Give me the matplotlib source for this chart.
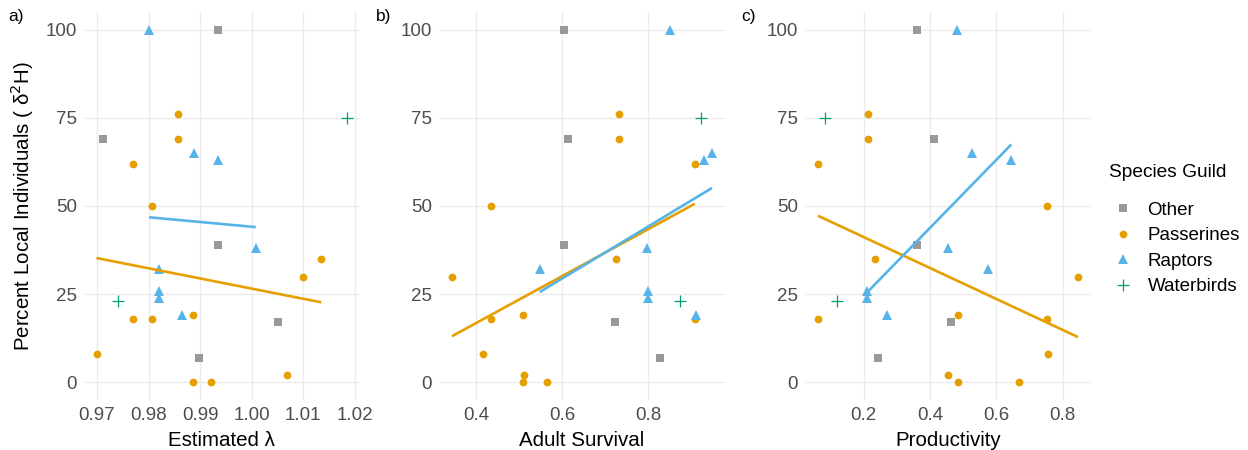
import numpy as np
import matplotlib
matplotlib.use('Agg')
import matplotlib.pyplot as plt
from matplotlib.lines import Line2D

plt.rcParams['font.family'] = ['Liberation Sans', 'DejaVu Sans']

# ── Data ─────────────────────────────────────────────────────────────────────
guilds = ['Other', 'Passerines', 'Raptors', 'Waterbirds']

pct_other = [100, 69, 39, 17, 7]
lam_other = [0.9934, 0.9711, 0.9934, 1.0051, 0.9897]
surv_other = [0.604, 0.612, 0.604, 0.723, 0.827]
prod_other = [0.361, 0.411, 0.361, 0.464, 0.244]

pct_pass = [76, 69, 62, 50, 35, 30, 19, 18, 18, 8, 2, 0, 0]
lam_pass = [0.9857, 0.9857, 0.9769, 0.9806, 1.0135, 1.0099, 0.9887,
            0.9769, 0.9806, 0.9699, 1.0068, 0.9887, 0.9922]
surv_pass = [0.732, 0.732, 0.908, 0.433, 0.725, 0.343, 0.508,
             0.433, 0.908, 0.416, 0.511, 0.508, 0.565]
prod_pass = [0.212, 0.212, 0.062, 0.753, 0.235, 0.846, 0.483,
             0.062, 0.753, 0.757, 0.455, 0.483, 0.669]

pct_rapt = [100, 65, 63, 38, 32, 26, 24, 19]
lam_rapt = [0.9801, 0.9888, 0.9934, 1.0008, 0.9821, 0.9820, 0.9820, 0.9865]
surv_rapt = [0.850, 0.948, 0.930, 0.796, 0.547, 0.799, 0.799, 0.911]
prod_rapt = [0.480, 0.525, 0.645, 0.455, 0.576, 0.209, 0.209, 0.271]

pct_water = [75, 23]
lam_water = [1.0184, 0.974]
surv_water = [0.922, 0.874]
prod_water = [0.083, 0.119]

x_titles = ['Estimated \u03bb', 'Adult Survival', 'Productivity']
panel_tags = ['a)', 'b)', 'c)']
x_ticks = [[0.97, 0.98, 0.99, 1.00, 1.01, 1.02], [0.4, 0.6, 0.8], [0.2, 0.4, 0.6, 0.8]]
x_fmt = ['{:.2f}', '{:.1f}', '{:.1f}']
y_ticks = [0, 25, 50, 75, 100]

# ── Styles ───────────────────────────────────────────────────────────────────
COLORS = {'Other': '#999999', 'Passerines': '#E69F00',
          'Raptors': '#56B4E9', 'Waterbirds': '#009E73'}
MARKERS = {'Other': dict(marker='s', ms=5.2),
           'Passerines': dict(marker='o', ms=5.6),
           'Raptors': dict(marker='^', ms=6.8),
           'Waterbirds': dict(marker='+', ms=8, mew=0.9)}
GRID_COLOR = '#EBEBEB'
TICK_COLOR = '#4D4D4D'

W, H = 1248, 450
fig = plt.figure(figsize=(W / 100, H / 100), dpi=100)

# panel boxes in pixels (left, right), shared top/bottom
panels_px = [(84, 359), (439, 725), (805, 1091)]
tag_px = [8, 376, 741]
top_px, bot_px = 12, 400

xs_by_panel = [
    [lam_other, lam_pass, lam_rapt, lam_water],
    [surv_other, surv_pass, surv_rapt, surv_water],
    [prod_other, prod_pass, prod_rapt, prod_water],
]
ys = [pct_other, pct_pass, pct_rapt, pct_water]

for i, (l, r) in enumerate(panels_px):
    ax = fig.add_axes([l / W, (H - bot_px) / H, (r - l) / W, (bot_px - top_px) / H])
    xdata = xs_by_panel[i]

    for g, xv, yv in zip(guilds, xdata, ys):
        ax.plot(xv, yv, linestyle='none', color=COLORS[g], zorder=3,
                markeredgewidth=MARKERS[g].get('mew', 0),
                marker=MARKERS[g]['marker'], markersize=MARKERS[g]['ms'])

    # linear fits for passerines and raptors
    for g_idx in (1, 2):
        g = guilds[g_idx]
        xv = np.array(xdata[g_idx])
        yv = np.array(ys[g_idx])
        k, b = np.polyfit(xv, yv, 1)
        xx = np.array([xv.min(), xv.max()])
        ax.plot(xx, k * xx + b, color=COLORS[g], lw=1.9, zorder=4,
                solid_capstyle='butt')

    allx = np.concatenate([np.array(v) for v in xdata])
    span = allx.max() - allx.min()
    ax.set_xlim(allx.min() - 0.05 * span, allx.max() + 0.05 * span)
    ax.set_ylim(-5, 105)
    ax.set_xticks(x_ticks[i])
    ax.set_xticklabels([x_fmt[i].format(t) for t in x_ticks[i]])
    ax.set_yticks(y_ticks)
    ax.grid(True, color=GRID_COLOR, linewidth=1.0, zorder=0)
    ax.set_axisbelow(True)
    for s in ax.spines.values():
        s.set_visible(False)
    ax.tick_params(length=0, labelsize=13.5, labelcolor=TICK_COLOR, pad=5)
    ax.set_xlabel(x_titles[i], fontsize=14.8, labelpad=5)
    if i == 0:
        ax.set_ylabel('Percent Local Individuals ( \u03b4$^{2}$H)', fontsize=14.8, labelpad=7)
    fig.text(tag_px[i] / W, 1 - 17 / H, panel_tags[i], fontsize=12.5,
             ha='left', va='center')

# legend: title as plain text, entries below
fig.text(1109 / W, 1 - 173 / H, 'Species Guild', fontsize=13.8, ha='left', va='center')
handles = [Line2D([], [], linestyle='none', color=COLORS[g], marker=MARKERS[g]['marker'],
                  markersize=MARKERS[g]['ms'], markeredgewidth=MARKERS[g].get('mew', 0))
           for g in guilds]
fig.legend(handles, guilds, loc='upper left', bbox_to_anchor=(1102 / W, 1 - 192 / H),
           frameon=False, fontsize=13.5, borderpad=0, labelspacing=0.45,
           handlelength=1.2, handletextpad=0.73)

fig.savefig('out.png', dpi=100)
